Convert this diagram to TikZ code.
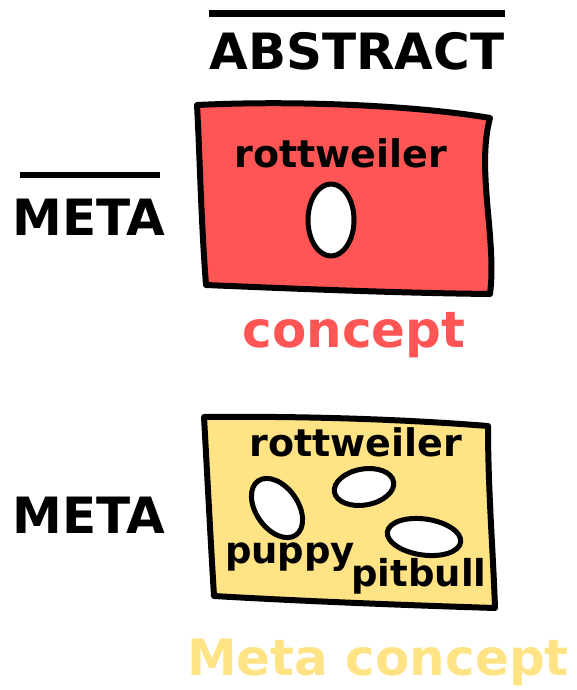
\documentclass[tikz,border=0pt]{standalone}
\usepackage{fontspec}
\setmainfont{DejaVu Sans}
\definecolor{redfill}{HTML}{FF5555}
\definecolor{yelfill}{HTML}{FFE384}
\begin{document}
\begin{tikzpicture}[x=1pt,y=-1pt,
  lbl/.style={inner sep=0pt, anchor=base, font=\bfseries\fontsize{#1}{#1}\selectfont},
  boxline/.style={line width=6pt, line join=round},
  holeline/.style={line width=5pt, fill=white},
  bar/.style={line width=6.5pt}]
\useasboundingbox (0,0) rectangle (576,690);
% headings
\node[lbl=50] (abstract) at (357,70) {ABSTRACT};
\coordinate (abL) at (209,13.5);
\coordinate (abR) at (505,13.5);
\draw[bar] (abL) -- (abR);
\node[lbl=50] (meta1) at (89,235) {META};
\coordinate (m1L) at (20,175);
\coordinate (m1R) at (160,175);
\draw[bar] (m1L) -- (m1R);
\node[lbl=50] (meta2) at (89,533) {META};
% red box
\draw[boxline, fill=redfill] (197,105) .. controls (300,100) and (420,106) .. (490,118)
  .. controls (476,170) and (497,240) .. (490,294)
  .. controls (400,293) and (300,289) .. (206,285)
  .. controls (201,220) and (200,160) .. (197,105) -- cycle;
\node[lbl=38] (rott1) at (341,167) {rottweiler};
\draw[holeline] (331,220) ellipse [x radius=23, y radius=36];
\node[lbl=50, text=redfill] (concept) at (354,347) {concept};
% yellow box
\draw[boxline, fill=yelfill] (204,417) .. controls (300,416) and (400,419) .. (488,426)
  .. controls (488,490) and (493,550) .. (495,608)
  .. controls (400,605) and (300,601) .. (214,596)
  .. controls (210,530) and (207,470) .. (204,417) -- cycle;
\node[lbl=38] (rott2) at (356,456) {rottweiler};
\draw[holeline, rotate around={-55:(277,508)}] (277,508) ellipse [x radius=33, y radius=21];
\draw[holeline, rotate around={10:(364,487)}] (364,487) ellipse [x radius=30, y radius=18];
\draw[holeline, rotate around={-8:(424,537)}] (424,537) ellipse [x radius=37, y radius=18];
\node[lbl=37] (puppy) at (290,563) {puppy};
\node[lbl=37] (pitbull) at (419,586) {pitbull};
\node[lbl=50, text=yelfill] (metaconcept) at (378,675) {Meta concept};
\end{tikzpicture}
\end{document}
